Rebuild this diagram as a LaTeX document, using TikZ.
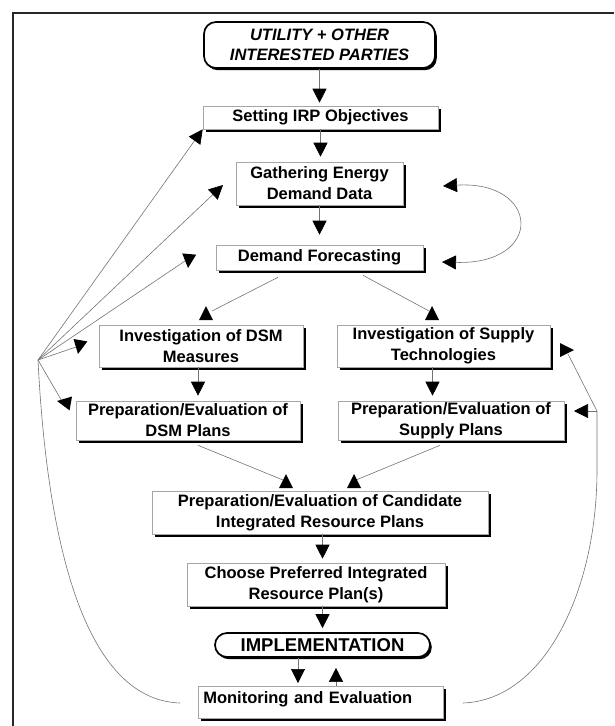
\documentclass[tikz,border=0pt]{standalone}
\usepackage{fontspec}
\setmainfont{Liberation Sans}
\usetikzlibrary{arrows.meta,shadows,calc}
\begin{document}
\begin{tikzpicture}[x=1pt,y=-1pt,
  font=\fontsize{16.5}{21}\selectfont\bfseries,
  box/.style={draw=gray!70, line width=0.6pt, fill=white, align=center, inner sep=0pt,
     drop shadow={shadow xshift=3pt, shadow yshift=-3pt, fill=black, opacity=1}},
  rbox/.style={draw=black, line width=1.7pt, fill=white, rounded corners=12pt, align=center, inner sep=0pt,
     drop shadow={shadow xshift=1.8pt, shadow yshift=-2.2pt, fill=black, opacity=1}},
  con/.style={draw=black!55, line width=0.6pt},
  tip/.tip={Triangle[width=14pt,length=14pt,black]},
  arr/.style={con, -tip},
  dblarr/.style={con, tip-tip},
  head/.pic={\fill[black] (0,0) -- (-14,-7) -- (-14,7) -- cycle;}
]
\useasboundingbox (0,0) rectangle (614,726);
% frame
\draw[line width=1.4pt, black!85] (13,726) -- (13,13) -- (614,13);

% nodes
\node[rbox, minimum width=231pt, minimum height=46pt,
      font=\fontsize{16.5}{20}\selectfont\bfseries\itshape] (U) at (319.5,45) {UTILITY + OTHER\\INTERESTED PARTIES};
\node[box, minimum width=235pt, minimum height=23pt] (S) at (320.5,117.5) {Setting IRP Objectives};
\node[box, minimum width=167pt, minimum height=43pt] (G) at (319.5,183.5) {Gathering Energy\\Demand Data};
\node[box, minimum width=207pt, minimum height=25pt] (DF) at (319.5,257.5) {Demand Forecasting};
\node[box, minimum width=204pt, minimum height=42pt] (DI) at (201,346) {Investigation of DSM\\Measures};
\node[box, minimum width=213pt, minimum height=42pt] (SI) at (443.5,346) {Investigation of Supply\\Technologies};
\node[box, minimum width=224pt, minimum height=39pt] (DP) at (188,420.5) {Preparation/Evaluation of\\DSM Plans};
\node[box, minimum width=226pt, minimum height=39pt] (SP) at (451,420.5) {Preparation/Evaluation of\\Supply Plans};
\node[box, minimum width=336pt, minimum height=43pt] (C) at (320,512.5) {Preparation/Evaluation of Candidate\\Integrated Resource Plans};
\node[box, minimum width=258pt, minimum height=43pt] (P) at (316,584.5) {Choose Preferred Integrated\\Resource Plan(s)};
\node[rbox, minimum width=215pt, minimum height=24pt,
      font=\fontsize{18.5}{20}\selectfont\bfseries] (I) at (322.5,645) {IMPLEMENTATION};
\node[box, anchor=north west, text width=235pt, inner xsep=5pt, inner ysep=5pt,
      text height=12pt, text depth=10pt, align=left] (M) at (198,686) {Monitoring and Evaluation};

% main chain
\draw[arr, shorten >=3pt] (U.south) -- (U.south |- S.north);
\draw[arr, shorten >=5pt] (S.south) -- (S.south |- G.north);
\draw[arr, shorten >=10pt] (G.south) -- (G.south |- DF.north);
\draw[arr, shorten >=4pt] (I.north |- C.south) -- (I.north |- P.north);
\draw[arr, shorten >=4pt] (I.north |- P.south) -- (I.north);
\coordinate (i1) at ([xshift=-24.5pt]I.south);
\coordinate (i2) at ([xshift=13.5pt]I.south);
\draw[arr, shorten >=3pt] (i1) -- (i1 |- M.north);
\draw[arr, shorten >=10pt] (i2 |- M.north) -- (i2);
\draw[arr, shorten >=5pt] ([xshift=-3pt]DI.south) -- ([xshift=-3pt]DI.south |- DP.north);
\draw[arr, shorten >=5pt] ([xshift=-11pt]SI.south) -- ([xshift=-11pt]SI.south |- SP.north);

% forecasting split
\coordinate (df1) at ([xshift=-41.5pt,yshift=-7pt]DF.south);
\coordinate (df2) at ([xshift=43.5pt,yshift=-5pt]DF.south);
\coordinate (h1) at (206,306);
\coordinate (h2) at (432,306);
\draw[con] (df1) -- ($(h1)+(6,5)$);
\draw[con] (df2) -- ($(h2)+(-3,5)$);
\pic[rotate=90] at (h1) {head};
\pic[rotate=90] at (h2) {head};

% plans to candidate
\coordinate (dp1) at ([xshift=10pt,yshift=-5pt]DP.south);
\coordinate (sp1) at ([xshift=-11pt,yshift=-5pt]SP.south);
\coordinate (h3) at (286,474);
\coordinate (h4) at (354,474);
\draw[con] (dp1) -- ($(h3)+(-3,6)$);
\draw[con] (sp1) -- ($(h4)+(2,6)$);
\pic[rotate=90] at (h3) {head};
\pic[rotate=90] at (h4) {head};

% loop on the right
\coordinate (lg) at (443,186);
\coordinate (ld) at (442,262);
\draw[dblarr] (lg) .. controls (540,180) and (545,265) .. (ld);

% left feedback fan
\coordinate (F) at (38,360);
\coordinate (ml) at (180,703);
\draw[con] (ml) .. controls (90,700) and (48,560) .. (F);
\draw[arr] (F) -- (S.south west);
\draw[arr] (F) -- (223,185) coordinate (fg);
\coordinate (h5) at (188,268);
\coordinate (h6) at (78,354);
\coordinate (h7) at (57,401);
\draw[con] (F) -- ($(h5)+(-3,-7)$);
\draw[con] (F) -- ($(h6)+(-2,-7)$);
\draw[con] (F) -- ($(h7)+(6,2)$);
\pic[rotate=-95] at (h5) {head};
\pic[rotate=-100] at (h6) {head};
\pic[rotate=170] at (h7) {head};

% right feedback
\coordinate (mr) at (463,703);
\coordinate (R) at (597,411);
\draw[con] (mr) .. controls (545,700) and (597,590) .. (597,470) -- (R);
\draw[arr] (R) -- (574,411) coordinate (spr);
\coordinate (h8) at (574,350);
\draw[con] (R) -- ($(h8)+(-6,4)$);
\pic[rotate=0] at (h8) {head};
\end{tikzpicture}
\end{document}
